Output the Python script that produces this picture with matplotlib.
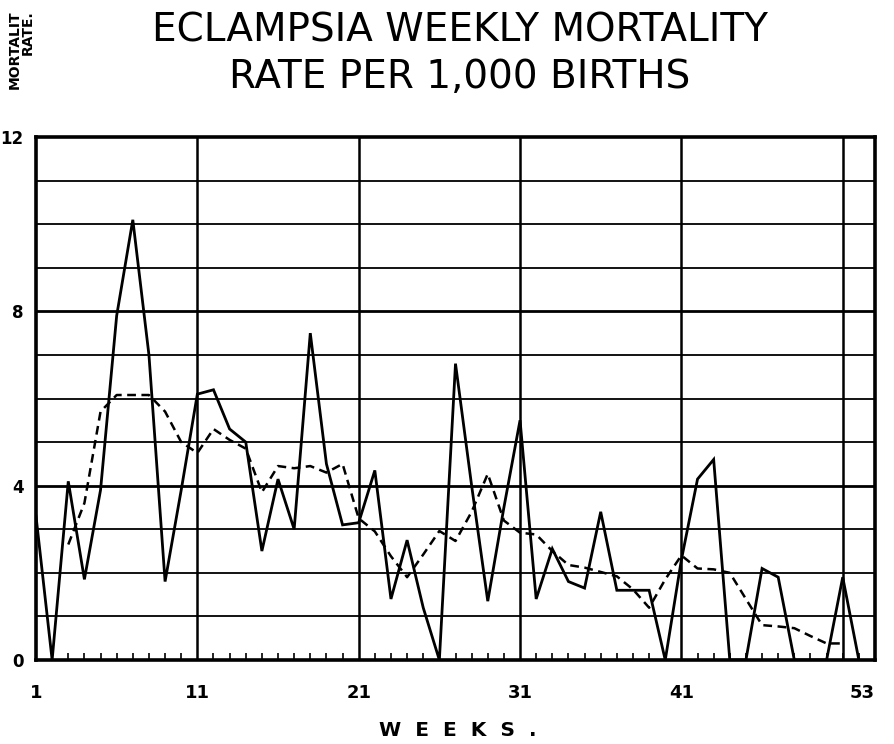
import matplotlib
matplotlib.use("Agg")
import matplotlib.pyplot as plt

# ---------------- data ----------------
weeks = [1, 2, 3, 4, 5, 6, 7, 8, 9, 10, 11, 12, 13, 14, 15, 16, 17, 18, 19, 20,
         21, 22, 23, 24, 25, 26, 27, 28, 29, 30, 31, 32, 33, 34, 35, 36, 37, 38, 39, 40,
         41, 42, 43, 44, 45, 46, 47, 48, 49, 50, 51, 52]
weekly_rate = [3.3, 0.0, 4.1, 1.85, 3.9, 7.9, 10.1, 7.0, 1.8, 3.9,
               6.1, 6.2, 5.3, 5.0, 2.5, 4.15, 3.0, 7.5, 4.5, 3.1,
               3.15, 4.35, 1.4, 2.75, 1.2, 0.0, 6.8, 4.0, 1.35, 3.5,
               5.5, 1.4, 2.55, 1.8, 1.65, 3.4, 1.6, 1.6, 1.6, 0.0,
               2.3, 4.15, 4.6, 0.0, 0.0, 2.1, 1.9, 0.0, 0.0, 0.0,
               1.9, 0.0]
avg_weeks = [3, 4, 5, 6, 7, 8, 9, 10, 11, 12, 13, 14, 15, 16, 17, 18, 19, 20,
             21, 22, 23, 24, 25, 26, 27, 28, 29, 30, 31, 32, 33, 34, 35, 36, 37, 38,
             39, 40, 41, 42, 43, 44, 45, 46, 47, 48, 49, 50, 51]
avg_rate = [2.65, 3.6, 5.7, 6.08, 6.08, 6.08, 5.7, 5.0, 4.75, 5.3,
            5.05, 4.85, 3.85, 4.45, 4.4, 4.45, 4.3, 4.5, 3.25, 2.95,
            2.38, 1.9, 2.42, 2.96, 2.73, 3.4, 4.27, 3.2, 2.92, 2.88,
            2.5, 2.18, 2.12, 2.02, 1.92, 1.62, 1.2, 1.85, 2.4, 2.1,
            2.08, 2.0, 1.4, 0.8, 0.77, 0.73, 0.55, 0.38, 0.38]
x_tick_values = [1, 11, 21, 31, 41, 53]
x_tick_labels = ["1", "11", "21", "31", "41", "53"]
y_tick_values = [0, 4, 8, 12]
y_tick_labels = ["0", "4", "8", "12"]
vertical_rules = [11, 21, 31, 41, 51]
title_lines = ["ECLAMPSIA WEEKLY MORTALITY", "RATE PER 1,000 BIRTHS"]
x_label = "W  E  E  K  S  ."
y_label_lines = ["MORTALIT", "RATE."]

plt.rcParams["font.family"] = ["DejaVu Sans"]

W, H = 894, 744
fig = plt.figure(figsize=(W / 100, H / 100), dpi=100)
ax = fig.add_axes([36 / W, 1 - 660 / H, (875 - 36) / W, (660 - 137) / H])
ax.set_xlim(1, 53)
ax.set_ylim(0, 12)

# ruled grid
for v in range(1, 12):
    lw = 2.0 if v in (4, 8) else 1.3
    ax.axhline(v, color="black", lw=lw, zorder=1)
for v in vertical_rules:
    ax.axvline(v, color="black", lw=1.8, zorder=1)

ax.plot(weeks, weekly_rate, color="black", lw=2.0, solid_joinstyle="miter", zorder=3)
ax.plot(avg_weeks, avg_rate, color="black", lw=1.8, linestyle=(0, (3.5, 2.2)), zorder=3)

for s in ax.spines.values():
    s.set_linewidth(2.6)

ax.set_xticks(x_tick_values)
ax.set_xticklabels(x_tick_labels, fontsize=13, fontweight="bold")
ax.get_xticklabels()[-1].set_horizontalalignment("right")
ax.set_xticks(weeks + [53], minor=True)
ax.tick_params(axis="x", which="major", length=0, pad=17)
ax.tick_params(axis="x", which="minor", direction="in", length=5, width=1.2, top=False)
ax.set_yticks(y_tick_values)
ax.set_yticklabels(y_tick_labels, fontsize=12, fontweight="bold")
ax.tick_params(axis="y", which="major", length=0, pad=9)

fig.text(460 / W, 1 - 30 / H, title_lines[0], ha="center", va="center",
         fontsize=28, color="black")
fig.text(460 / W, 1 - 77 / H, title_lines[1], ha="center", va="center",
         fontsize=28, color="black")
fig.text(458 / W, 1 - 730 / H, x_label, ha="center", va="center",
         fontsize=14.5, fontweight="bold")
fig.text(15 / W, 1 - 10 / H, y_label_lines[0], rotation=90, ha="center", va="top",
         fontsize=10, fontweight="bold")
fig.text(28 / W, 1 - 10 / H, y_label_lines[1], rotation=90, ha="center", va="top",
         fontsize=10, fontweight="bold")

fig.savefig("out.png", dpi=100)
